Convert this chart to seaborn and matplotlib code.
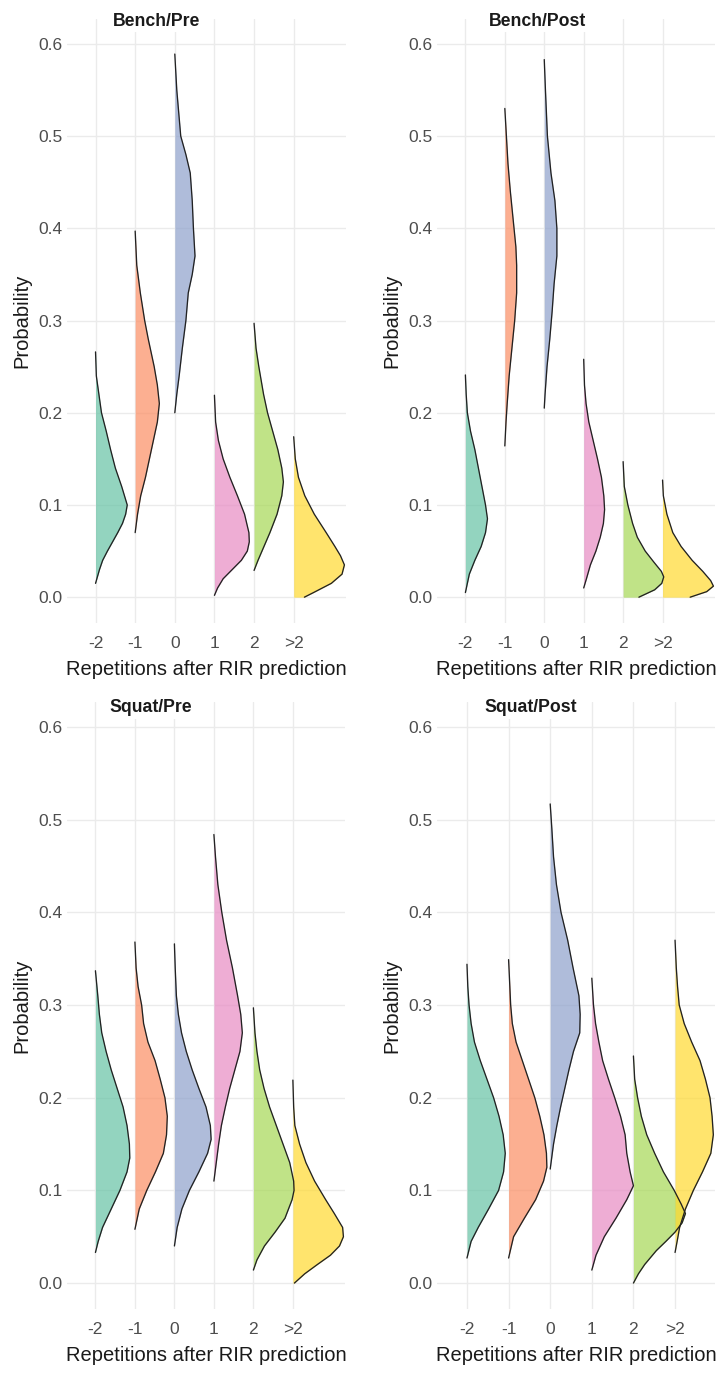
import numpy as np
import pandas as pd
import matplotlib
matplotlib.use("Agg")
import matplotlib.pyplot as plt
import seaborn as sns

categories = ["-2", "-1", "0", "1", "2", ">2"]
panel_titles = ["Bench/Pre", "Bench/Post", "Squat/Pre", "Squat/Post"]

# density outlines: probability (y) and half-violin width per category
bench_pre_prob = [
    [0.266, 0.24, 0.20, 0.18, 0.16, 0.14, 0.12, 0.10, 0.09, 0.08, 0.07, 0.06, 0.05, 0.04, 0.03, 0.015],
    [0.397, 0.36, 0.33, 0.30, 0.28, 0.25, 0.23, 0.21, 0.19, 0.17, 0.15, 0.13, 0.11, 0.09, 0.07],
    [0.589, 0.55, 0.50, 0.48, 0.46, 0.43, 0.40, 0.37, 0.35, 0.33, 0.30, 0.27, 0.24, 0.22, 0.20],
    [0.219, 0.19, 0.17, 0.15, 0.13, 0.11, 0.09, 0.07, 0.06, 0.05, 0.04, 0.03, 0.02, 0.01, 0.002],
    [0.297, 0.27, 0.25, 0.22, 0.20, 0.18, 0.16, 0.14, 0.125, 0.11, 0.09, 0.07, 0.05, 0.04, 0.029],
    [0.174, 0.15, 0.13, 0.11, 0.09, 0.07, 0.055, 0.045, 0.035, 0.025, 0.015, 0.005, 0.0],
]
bench_pre_width = [
    [0, 0.02, 0.15, 0.27, 0.38, 0.50, 0.66, 0.80, 0.76, 0.68, 0.56, 0.43, 0.30, 0.18, 0.10, 0],
    [0, 0.04, 0.13, 0.24, 0.33, 0.48, 0.56, 0.61, 0.56, 0.46, 0.36, 0.26, 0.14, 0.06, 0],
    [0, 0.05, 0.15, 0.28, 0.39, 0.44, 0.47, 0.51, 0.44, 0.34, 0.28, 0.19, 0.11, 0.05, 0],
    [0, 0.03, 0.10, 0.22, 0.39, 0.58, 0.76, 0.87, 0.88, 0.83, 0.68, 0.45, 0.22, 0.08, 0],
    [0, 0.05, 0.12, 0.24, 0.34, 0.47, 0.60, 0.70, 0.74, 0.70, 0.58, 0.40, 0.20, 0.10, 0],
    [0, 0.04, 0.12, 0.28, 0.52, 0.82, 1.04, 1.18, 1.28, 1.22, 0.95, 0.50, 0.27],
]

bench_post_prob = [
    [0.241, 0.22, 0.20, 0.18, 0.16, 0.14, 0.12, 0.10, 0.085, 0.07, 0.055, 0.04, 0.025, 0.005],
    [0.53, 0.50, 0.47, 0.44, 0.41, 0.38, 0.36, 0.33, 0.30, 0.27, 0.24, 0.21, 0.19, 0.164],
    [0.583, 0.55, 0.50, 0.46, 0.43, 0.40, 0.37, 0.34, 0.31, 0.28, 0.25, 0.22, 0.205],
    [0.258, 0.23, 0.21, 0.19, 0.17, 0.15, 0.13, 0.11, 0.095, 0.08, 0.065, 0.05, 0.035, 0.02, 0.01],
    [0.147, 0.12, 0.10, 0.08, 0.065, 0.05, 0.038, 0.028, 0.022, 0.015, 0.008, 0.0],
    [0.127, 0.11, 0.09, 0.07, 0.055, 0.04, 0.028, 0.018, 0.012, 0.006, 0.0],
]
bench_post_width = [
    [0, 0.02, 0.05, 0.13, 0.24, 0.33, 0.42, 0.51, 0.56, 0.51, 0.40, 0.24, 0.10, 0],
    [0, 0.04, 0.08, 0.14, 0.21, 0.28, 0.30, 0.30, 0.25, 0.18, 0.11, 0.06, 0.03, 0],
    [0, 0.03, 0.08, 0.17, 0.27, 0.32, 0.32, 0.25, 0.20, 0.14, 0.07, 0.02, 0],
    [0, 0.02, 0.06, 0.13, 0.24, 0.35, 0.45, 0.51, 0.53, 0.50, 0.42, 0.31, 0.17, 0.07, 0],
    [0, 0.03, 0.12, 0.24, 0.36, 0.56, 0.78, 0.97, 1.03, 0.98, 0.80, 0.40],
    [0, 0.02, 0.11, 0.26, 0.47, 0.75, 1.02, 1.22, 1.29, 1.12, 0.70],
]

squat_pre_prob = [
    [0.337, 0.31, 0.29, 0.27, 0.25, 0.23, 0.21, 0.19, 0.17, 0.15, 0.135, 0.12, 0.10, 0.08, 0.06, 0.045, 0.033],
    [0.368, 0.34, 0.32, 0.30, 0.28, 0.26, 0.24, 0.22, 0.20, 0.18, 0.16, 0.14, 0.12, 0.10, 0.08, 0.058],
    [0.366, 0.34, 0.31, 0.29, 0.27, 0.25, 0.23, 0.21, 0.19, 0.17, 0.155, 0.14, 0.12, 0.10, 0.08, 0.06, 0.04],
    [0.484, 0.46, 0.43, 0.40, 0.37, 0.34, 0.31, 0.29, 0.27, 0.25, 0.23, 0.21, 0.19, 0.17, 0.15, 0.13, 0.11],
    [0.297, 0.27, 0.25, 0.23, 0.21, 0.19, 0.17, 0.15, 0.13, 0.11, 0.10, 0.09, 0.07, 0.055, 0.04, 0.025, 0.014],
    [0.219, 0.19, 0.17, 0.15, 0.13, 0.11, 0.09, 0.075, 0.06, 0.05, 0.04, 0.03, 0.02, 0.01, 0.0],
]
squat_pre_width = [
    [0, 0.06, 0.10, 0.16, 0.27, 0.40, 0.55, 0.70, 0.80, 0.86, 0.87, 0.80, 0.62, 0.40, 0.18, 0.07, 0],
    [0, 0.03, 0.08, 0.17, 0.22, 0.33, 0.51, 0.64, 0.76, 0.82, 0.80, 0.72, 0.52, 0.30, 0.11, 0],
    [0, 0.02, 0.05, 0.10, 0.18, 0.30, 0.45, 0.62, 0.80, 0.91, 0.93, 0.84, 0.62, 0.38, 0.19, 0.07, 0],
    [0, 0.04, 0.10, 0.20, 0.32, 0.47, 0.60, 0.68, 0.72, 0.66, 0.53, 0.40, 0.29, 0.19, 0.12, 0.06, 0],
    [0, 0.04, 0.09, 0.16, 0.27, 0.41, 0.58, 0.75, 0.92, 1.02, 1.03, 0.98, 0.80, 0.55, 0.28, 0.09, 0],
    [0, 0.02, 0.05, 0.17, 0.33, 0.55, 0.83, 1.05, 1.26, 1.28, 1.18, 0.95, 0.62, 0.30, 0.04],
]

squat_post_prob = [
    [0.344, 0.32, 0.30, 0.28, 0.26, 0.24, 0.22, 0.20, 0.18, 0.16, 0.14, 0.12, 0.10, 0.08, 0.06, 0.045, 0.027],
    [0.349, 0.32, 0.30, 0.28, 0.26, 0.24, 0.22, 0.20, 0.18, 0.16, 0.14, 0.125, 0.11, 0.09, 0.07, 0.05, 0.027],
    [0.517, 0.49, 0.46, 0.43, 0.40, 0.37, 0.34, 0.31, 0.29, 0.27, 0.25, 0.23, 0.21, 0.19, 0.17, 0.15, 0.123],
    [0.329, 0.30, 0.28, 0.26, 0.24, 0.22, 0.20, 0.18, 0.16, 0.14, 0.12, 0.105, 0.09, 0.07, 0.05, 0.03, 0.014],
    [0.245, 0.22, 0.20, 0.18, 0.16, 0.14, 0.12, 0.10, 0.085, 0.075, 0.065, 0.055, 0.045, 0.035, 0.02, 0.01, 0.0],
    [0.37, 0.34, 0.32, 0.30, 0.28, 0.26, 0.24, 0.22, 0.20, 0.18, 0.16, 0.14, 0.12, 0.10, 0.08, 0.06, 0.045, 0.033],
]
squat_post_width = [
    [0, 0.02, 0.05, 0.10, 0.18, 0.32, 0.48, 0.64, 0.77, 0.87, 0.92, 0.88, 0.76, 0.52, 0.27, 0.10, 0],
    [0, 0.03, 0.05, 0.09, 0.18, 0.33, 0.48, 0.63, 0.75, 0.85, 0.91, 0.92, 0.84, 0.65, 0.38, 0.12, 0],
    [0, 0.04, 0.08, 0.15, 0.26, 0.42, 0.55, 0.69, 0.72, 0.71, 0.56, 0.45, 0.35, 0.25, 0.16, 0.08, 0],
    [0, 0.04, 0.09, 0.17, 0.26, 0.40, 0.55, 0.69, 0.80, 0.84, 0.92, 1.00, 0.84, 0.58, 0.30, 0.10, 0],
    [0, 0.03, 0.10, 0.19, 0.32, 0.51, 0.72, 0.98, 1.15, 1.25, 1.17, 1.00, 0.78, 0.55, 0.27, 0.12, 0],
    [0, 0.03, 0.06, 0.10, 0.22, 0.40, 0.60, 0.73, 0.84, 0.89, 0.92, 0.86, 0.66, 0.44, 0.25, 0.11, 0.05, 0],
]

panel_probs = [bench_pre_prob, bench_post_prob, squat_pre_prob, squat_post_prob]
panel_widths = [bench_pre_width, bench_post_width, squat_pre_width, squat_post_width]

sns.set_theme(style="whitegrid")
plt.rcParams["font.family"] = ["Liberation Sans", "DejaVu Sans"]

palette = sns.color_palette("Set2", 6)

W, H = 724, 1374
fig = plt.figure(figsize=(W / 100, H / 100), dpi=100)


def px_axes(left, top, right, bottom):
    return fig.add_axes([left / W, 1 - bottom / H, (right - left) / W, (bottom - top) / H])


boxes = [(67, 19, 346, 623), (437, 19, 715, 623), (67, 702, 345, 1309), (437, 702, 715, 1309)]
title_pos = [(157, 21), (537, 21), (151, 708), (531, 708)]

for k in range(4):
    ax = px_axes(*boxes[k])

    rows = []
    for i, cat in enumerate(categories):
        for p, w in zip(panel_probs[k][i], panel_widths[k][i]):
            rows.append({"category": cat, "pos": i, "prob": p, "edge": i + w})
    df = pd.DataFrame(rows)

    for i, cat in enumerate(categories):
        d = df[df["category"] == cat]
        ax.fill_betweenx(d["prob"], d["pos"], d["edge"], color=palette[i],
                         alpha=0.7, linewidth=0, zorder=2)

    sns.lineplot(data=df, x="edge", y="prob", units="category", estimator=None,
                 sort=False, color="#222222", linewidth=0.95, ax=ax, zorder=3,
                 solid_joinstyle="round", solid_capstyle="round")

    ax.set_xlim(-0.72, df["edge"].max() + 0.04)
    ax.set_ylim(-0.028, 0.627)
    ax.set_xticks(range(len(categories)))
    ax.set_xticklabels(categories)
    ax.set_yticks(np.arange(0, 0.61, 0.1))
    ax.set_yticklabels([f"{v:.1f}" for v in np.arange(0, 0.61, 0.1)])
    ax.grid(True, color="#EBEBEB", linewidth=1.0)
    ax.set_axisbelow(True)
    for s in ax.spines.values():
        s.set_visible(False)
    ax.set_facecolor("white")
    ax.tick_params(axis="both", length=0, labelsize=12.5, colors="#4D4D4D")
    ax.tick_params(axis="x", pad=9)
    ax.tick_params(axis="y", pad=3.5)
    ax.set_xlabel("Repetitions after RIR prediction", fontsize=14.5, color="#1A1A1A", labelpad=7)
    ax.set_ylabel("Probability", fontsize=14.5, color="#1A1A1A", labelpad=5)

    tx, ty = title_pos[k]
    fig.text(tx / W, 1 - ty / H, panel_titles[k], ha="center", va="center",
             fontsize=12.7, fontweight="bold", color="#1A1A1A",
             bbox=dict(facecolor="white", edgecolor="none", pad=1.5), zorder=10)

fig.savefig("out.png", dpi=100)
